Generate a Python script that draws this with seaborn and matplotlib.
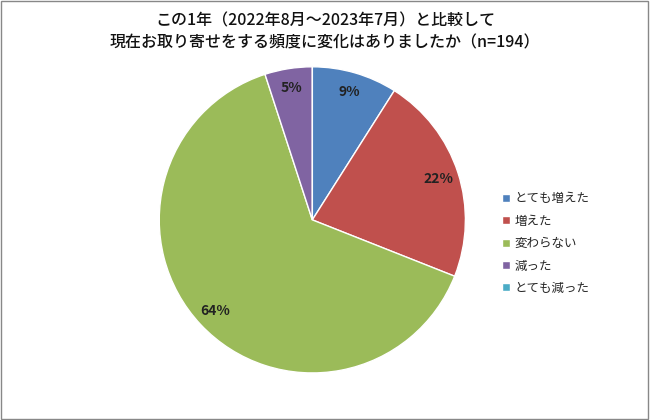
import matplotlib
matplotlib.use("Agg")
import matplotlib.pyplot as plt
import seaborn as sns
from matplotlib.patches import Rectangle

sns.set_theme(style="white")
plt.rcParams['font.family'] = ['Noto Sans CJK JP', 'DejaVu Sans']

categories = ["とても増えた", "増えた", "変わらない", "減った", "とても減った"]
values = [9, 22, 64, 5, 0]
colors = ["#4F81BD", "#C0504D", "#9BBB59", "#8064A2", "#4BACC6"]
title = "この1年（2022年8月～2023年7月）と比較して\n現在お取り寄せをする頻度に変化はありましたか（n=194）"

fig = plt.figure(figsize=(6.5, 4.2), dpi=100)
fig.patches.append(Rectangle((0.002, 0.003), 0.995, 0.994, transform=fig.transFigure,
                             fill=False, edgecolor="#888888", linewidth=1))
ax = fig.add_axes([0.245, 0.112, 0.471, 0.729])
wedges, texts, autotexts = ax.pie(
    values, colors=colors, startangle=90, counterclock=False,
    autopct=lambda p: f"{p:.0f}%" if p > 0.5 else "", pctdistance=0.87,
    wedgeprops=dict(edgecolor="white", linewidth=1),
    textprops=dict(fontsize=10, fontweight="bold", color="#222222"))
ax.set_xlim(-1, 1)
ax.set_ylim(-1, 1)
ax.set_aspect("equal")
fig.suptitle(title, y=0.97, fontsize=11.5, fontweight="medium", color="#111111", linespacing=1.35)
fig.legend(wedges, categories, loc="center left", bbox_to_anchor=(0.755, 0.42),
           frameon=False, fontsize=9, handlelength=0.6, handleheight=0.6,
           handletextpad=0.4, labelspacing=0.75)
fig.savefig("out.png", dpi=100)
